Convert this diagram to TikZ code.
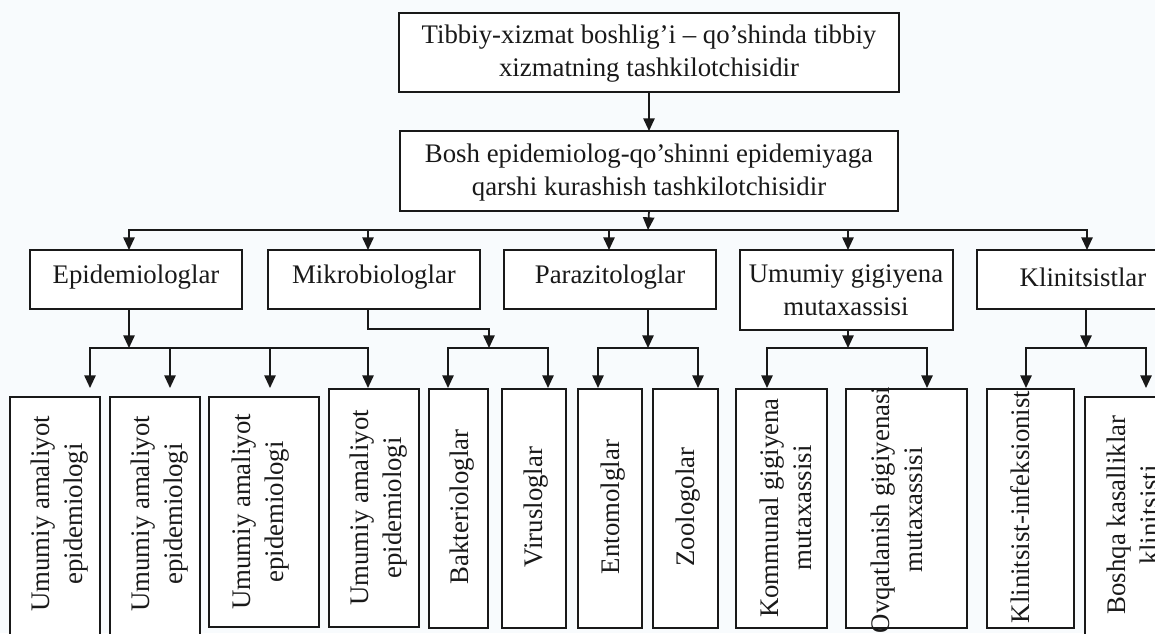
\documentclass[tikz,border=0pt]{standalone}
\usepackage{fontspec}
\setmainfont{Liberation Serif}
\usetikzlibrary{fit,arrows.meta}
\definecolor{bgc}{RGB}{248,251,253}
\definecolor{ink}{RGB}{25,25,25}
\begin{document}
\begin{tikzpicture}[x=0.75pt,y=-0.75pt,
  box/.style={draw=ink, line width=0.9pt, fill=white, inner sep=0pt, outer sep=0pt},
  txt/.style={font=\fontsize{20.1}{24.75}\selectfont, align=center, inner sep=0pt, text=ink},
  vtxt/.style={txt, rotate=90},
  arr/.style={draw=ink, line width=1.3pt, -{Triangle[length=9.5pt,width=8.5pt]}},
  ln/.style={draw=ink, line width=1.3pt}]
\useasboundingbox (0,0) rectangle (1155,633);
\fill[bgc] (0,0) rectangle (1155,633);
\clip (0,0) rectangle (1155,633);

% level 0 and 1
\node[box, fit={(399,13)(899,92)}] (A) {};
\node[box, fit={(400,131)(898,211)}] (B) {};
\node[txt] (t-A) at (649,53.5) {Tibbiy-xizmat boshlig’i – qo’shinda tibbiy\\xizmatning tashkilotchisidir};
\node[txt] (t-B) at (649,173) {Bosh epidemiolog-qo’shinni epidemiyaga\\qarshi kurashish tashkilotchisidir};

% level 2
\node[box, fit={(30,250)(242,309)}] (epi) {};
\node[box, fit={(268,250)(480,309)}] (mik) {};
\node[box, fit={(504,250)(716,309)}] (par) {};
\node[box, fit={(740,250)(953,330)}] (ug) {};
\node[box, fit={(977,250)(1189,309)}] (kln) {};
\node[txt] (t-epi) at (136,277) {Epidemiologlar};
\node[txt] (t-mik) at (374,277) {Mikrobiologlar};
\node[txt] (t-par) at (610,277) {Parazitologlar};
\node[txt] (t-ug) at (846,290) {Umumiy gigiyena\\mutaxassisi};
\node[txt] (t-kln) at (1083,277) {Klinitsistlar};

% level 3 boxes
\node[box, fit={(10,397)(100,645)}] (b1) {};
\node[box, fit={(110,397)(200,645)}] (b2) {};
\node[box, fit={(209,397)(319,627)}] (b3) {};
\node[box, fit={(329,389)(419,627)}] (b4) {};
\node[box, fit={(429,389)(488,628)}] (bak) {};
\node[box, fit={(502,389)(566,628)}] (vir) {};
\node[box, fit={(578,389)(642,628)}] (ent) {};
\node[box, fit={(653,389)(718,628)}] (zoo) {};
\node[box, fit={(736,389)(827,628)}] (kom) {};
\node[box, fit={(846,389)(967,628)}] (ovq) {};
\node[box, fit={(987,389)(1074,628)}] (kli) {};
\node[box, fit={(1085,397)(1180,645)}] (bos) {};

\node[vtxt] (t-b1) at (60,514) {Umumiy amaliyot\\epidemiologi};
\node[vtxt] (t-b2) at (160,514) {Umumiy amaliyot\\epidemiologi};
\node[vtxt] (t-b3) at (261,512) {Umumiy amaliyot\\epidemiologi};
\node[vtxt] (t-b4) at (379,508) {Umumiy amaliyot\\epidemiologi};
\node[vtxt] (t-bak) at (462,507) {Bakteriologlar};
\node[vtxt] (t-vir) at (536,507) {Virusloglar};
\node[vtxt] (t-ent) at (613,507) {Entomolglar};
\node[vtxt] (t-zoo) at (688,507) {Zoologolar};
\node[vtxt] (t-kom) at (786,508) {Kommunal gigiyena\\mutaxassisi};
\node[vtxt] (t-ovq) at (897,510) {Ovqatlanish gigiyenasi\\mutaxassisi};
\node[vtxt] (t-kli) at (1020,507) {Klinitsist-infeksionist};
\node[vtxt] (t-bos) at (1133,515) {Boshqa kasalliklar\\klinitsisti};

% connectors level 0-2
\coordinate (bus) at (648,230);
\draw[arr] (A.south) -- (B.north);
\draw[arr] (B.south) -- (bus);
\coordinate (in-epi) at (129,250);
\coordinate (in-mik) at (368,250);
\coordinate (in-par) at (609,250);
\coordinate (in-ug) at (848,250);
\coordinate (in-kln) at (1087,250);
\foreach \c in {in-epi,in-mik,in-par,in-ug,in-kln} \draw[arr] (bus) -| (\c);

% Epidemiologlar group
\coordinate (epi-o) at (129,309);
\coordinate (epi-j) at (129,348);
\draw[arr] (epi-o) -- (epi-j);
\coordinate (p1) at (90,388);
\coordinate (p2) at (170,388);
\coordinate (p3) at (270,388);
\coordinate (p4) at (368,388);
\foreach \c in {p1,p2,p3,p4} \draw[arr] (epi-j) -| (\c);

% Mikrobiologlar group
\coordinate (mik-o) at (368,309);
\coordinate (mik-k) at (489,329);
\coordinate (mik-j) at (489,348);
\draw[arr] (mik-o) |- (mik-k) -- (mik-j);
\coordinate (p5) at (448,388);
\coordinate (p6) at (548,388);
\foreach \c in {p5,p6} \draw[arr] (mik-j) -| (\c);

% Parazitologlar group
\coordinate (par-o) at (648,309);
\coordinate (par-j) at (648,348);
\draw[arr] (par-o) -- (par-j);
\coordinate (p7) at (598,388);
\coordinate (p8) at (698,388);
\foreach \c in {p7,p8} \draw[arr] (par-j) -| (\c);

% Umumiy gigiyena group
\coordinate (ug-o) at (848,330);
\coordinate (ug-j) at (848,348);
\draw[arr] (ug-o) -- (ug-j);
\coordinate (p9) at (767,388);
\coordinate (p10) at (927,388);
\foreach \c in {p9,p10} \draw[arr] (ug-j) -| (\c);

% Klinitsistlar group
\coordinate (kln-o) at (1086,309);
\coordinate (kln-j) at (1086,348);
\draw[arr] (kln-o) -- (kln-j);
\coordinate (p11) at (1026,388);
\coordinate (p12) at (1146,388);
\foreach \c in {p11,p12} \draw[arr] (kln-j) -| (\c);
\end{tikzpicture}
\end{document}
